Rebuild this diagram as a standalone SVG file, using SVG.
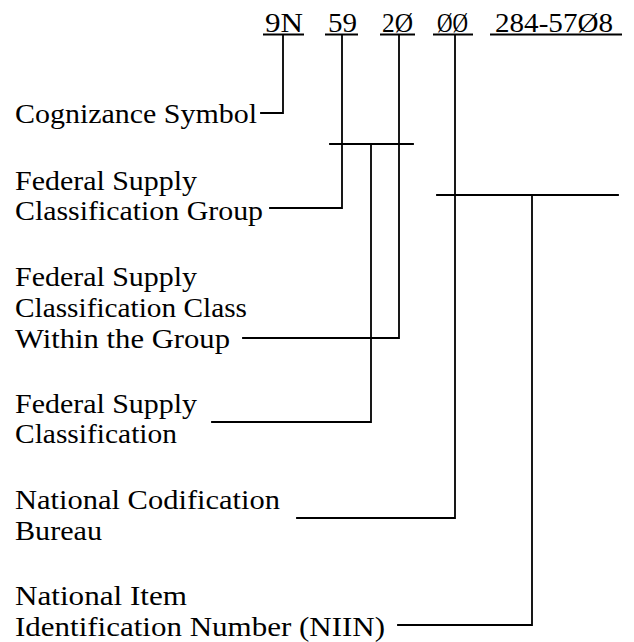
<svg xmlns="http://www.w3.org/2000/svg" width="634" height="642" viewBox="0 0 634 642">
<style>
.lbl{font-family:"Liberation Serif","Times New Roman",serif;font-size:27px;fill:#000}
.code{font-family:"Liberation Serif","Times New Roman",serif;font-size:28px;fill:#000}
.ul{stroke:#000;stroke-width:1.8;fill:none}
.conn{stroke:#000;stroke-width:1.8;fill:none;stroke-linejoin:miter;stroke-linecap:square}
</style>
<rect width="634" height="642" fill="#fff"/>
<g id="code">
<text class="code" x="265" y="32" textLength="38" lengthAdjust="spacingAndGlyphs">9N</text>
<text class="code" x="328" y="32" textLength="29" lengthAdjust="spacingAndGlyphs">59</text>
<text class="code" x="382" y="32" textLength="31" lengthAdjust="spacingAndGlyphs">2Ø</text>
<text class="code" x="437" y="32" textLength="31" lengthAdjust="spacingAndGlyphs">ØØ</text>
<text class="code" x="495" y="32" textLength="118" lengthAdjust="spacingAndGlyphs">284-57Ø8</text>
<path class="ul" d="M263,34.5H304M325,34.5H358M380,34.5H415M433,34.5H473M490,34.5H622"/>
</g>
<g id="cognizance">
<text class="lbl" x="15" y="123" textLength="242" lengthAdjust="spacingAndGlyphs">Cognizance Symbol</text>
</g>
<g id="fsc-group">
<text class="lbl" x="15" y="190" textLength="182" lengthAdjust="spacingAndGlyphs">Federal Supply</text>
<text class="lbl" x="15" y="220" textLength="248" lengthAdjust="spacingAndGlyphs">Classification Group</text>
</g>
<g id="fsc-class">
<text class="lbl" x="15" y="286" textLength="182" lengthAdjust="spacingAndGlyphs">Federal Supply</text>
<text class="lbl" x="15" y="317" textLength="232" lengthAdjust="spacingAndGlyphs">Classification Class</text>
<text class="lbl" x="15" y="348" textLength="215" lengthAdjust="spacingAndGlyphs">Within the Group</text>
</g>
<g id="fsc">
<text class="lbl" x="15" y="413" textLength="182" lengthAdjust="spacingAndGlyphs">Federal Supply</text>
<text class="lbl" x="15" y="443" textLength="162" lengthAdjust="spacingAndGlyphs">Classification</text>
</g>
<g id="ncb">
<text class="lbl" x="15" y="509" textLength="265" lengthAdjust="spacingAndGlyphs">National Codification</text>
<text class="lbl" x="15" y="540" textLength="87" lengthAdjust="spacingAndGlyphs">Bureau</text>
</g>
<g id="niin">
<text class="lbl" x="15" y="605" textLength="172" lengthAdjust="spacingAndGlyphs">National Item</text>
<text class="lbl" x="15" y="636" textLength="370" lengthAdjust="spacingAndGlyphs">Identification Number (NIIN)</text>
</g>
<g id="connectors">
<path class="conn" d="M261,113H283V35"/>
<path class="conn" d="M270,208H342V35"/>
<path class="conn" d="M330,144H413"/>
<path class="conn" d="M243,338H399V35"/>
<path class="conn" d="M212,422H371V144"/>
<path class="conn" d="M297,518H455V35"/>
<path class="conn" d="M437,195H618"/>
<path class="conn" d="M398,625H532V195"/>
</g>
</svg>
